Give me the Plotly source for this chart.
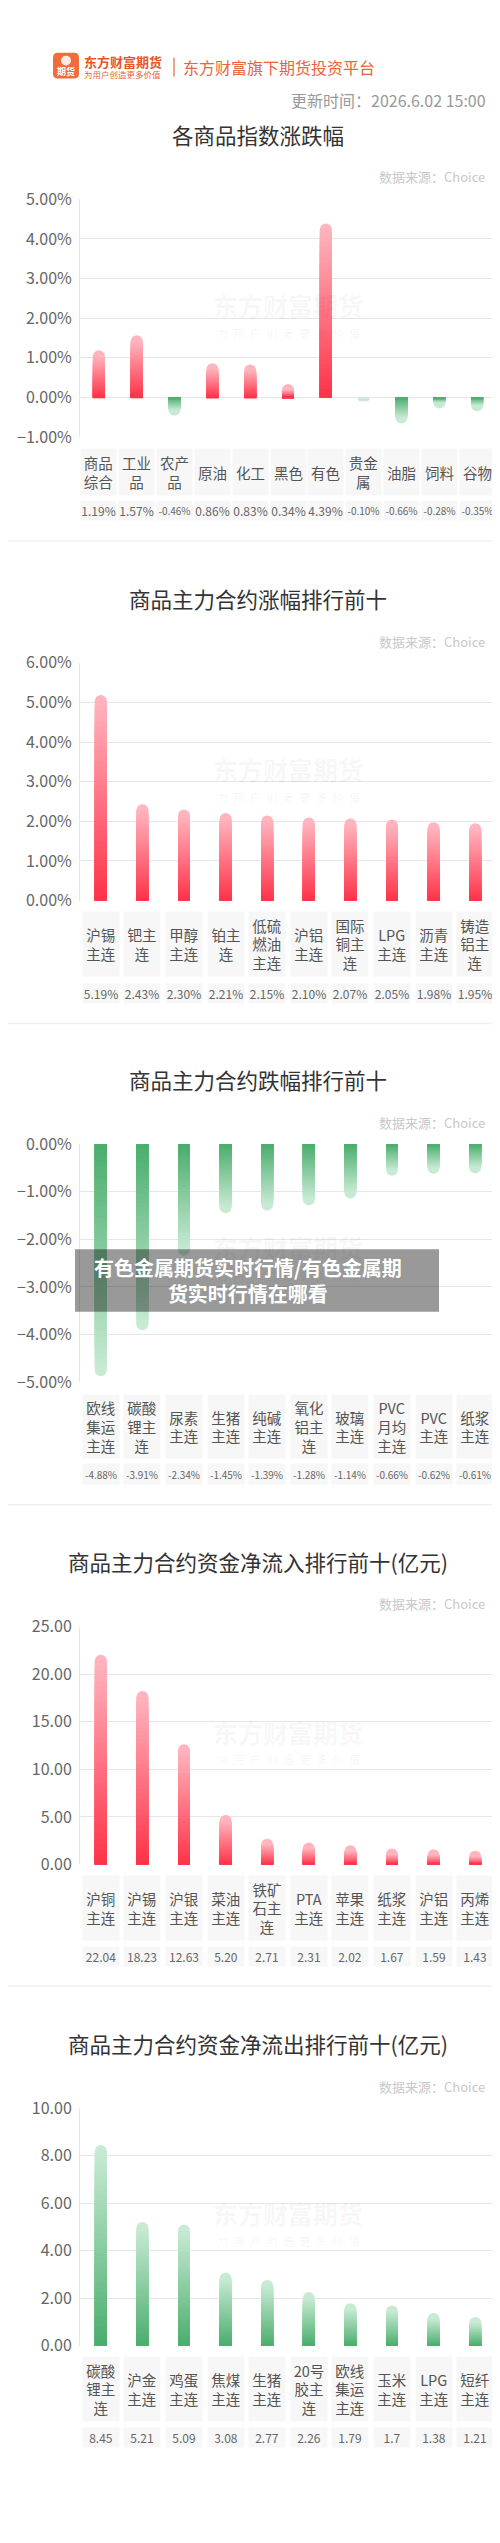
import plotly.graph_objects as go

W, H = 500, 2543
FONT = "Noto Sans CJK SC"

# ---- data ----
idx_names = ["商品<br>综合", "工业<br>品", "农产<br>品", "原油", "化工", "黑色", "有色",
             "贵金<br>属", "油脂", "饲料", "谷物"]
idx_changes = [1.19, 1.57, -0.46, 0.86, 0.83, 0.34, 4.39, -0.10, -0.66, -0.28, -0.35]

up_names = ["沪锡<br>主连", "钯主<br>连", "甲醇<br>主连", "铂主<br>连", "低硫<br>燃油<br>主连",
            "沪铝<br>主连", "国际<br>铜主<br>连", "LPG<br>主连", "沥青<br>主连", "铸造<br>铝主<br>连"]
up_changes = [5.19, 2.43, 2.30, 2.21, 2.15, 2.10, 2.07, 2.05, 1.98, 1.95]

down_names = ["欧线<br>集运<br>主连", "碳酸<br>锂主<br>连", "尿素<br>主连", "生猪<br>主连", "纯碱<br>主连",
              "氧化<br>铝主<br>连", "玻璃<br>主连", "PVC<br>月均<br>主连", "PVC<br>主连", "纸浆<br>主连"]
down_changes = [-4.88, -3.91, -2.34, -1.45, -1.39, -1.28, -1.14, -0.66, -0.62, -0.61]

inflow_names = ["沪铜<br>主连", "沪锡<br>主连", "沪银<br>主连", "菜油<br>主连", "铁矿<br>石主<br>连",
                "PTA<br>主连", "苹果<br>主连", "纸浆<br>主连", "沪铝<br>主连", "丙烯<br>主连"]
inflow_values = [22.04, 18.23, 12.63, 5.20, 2.71, 2.31, 2.02, 1.67, 1.59, 1.43]

outflow_names = ["碳酸<br>锂主<br>连", "沪金<br>主连", "鸡蛋<br>主连", "焦煤<br>主连", "生猪<br>主连",
                 "20号<br>胶主<br>连", "欧线<br>集运<br>主连", "玉米<br>主连", "LPG<br>主连", "短纤<br>主连"]
outflow_values = [8.45, 5.21, 5.09, 3.08, 2.77, 2.26, 1.79, 1.7, 1.38, 1.21]

update_time = "更新时间：2026.6.02 15:00"
source_text = "数据来源：Choice"

RED = ((255, 50, 72), (255, 180, 190))      # base colour, tip colour
GREEN = ((74, 173, 108), (200, 234, 212))
N_SEG = 40
BAR_PX = 12


def px(x):
    return x / W


def py(y):
    return 1 - y / H


def grad(pal, t):
    b, e = pal
    c = [round(b[i] + (e[i] - b[i]) * t) for i in range(3)]
    return f"rgb({c[0]},{c[1]},{c[2]})"


def pct(v):
    return f"{v:.2f}%"


def note(x, y, text, size, color, xanchor="center", xref="paper", **kw):
    d = dict(x=x, y=y, xref=xref, yref="paper", text=text, showarrow=False,
             xanchor=xanchor, yanchor="middle",
             font=dict(size=size, color=color, family=FONT))
    d.update(kw)
    return d


def round_rect(x0, y0, x1, y1, r):
    # pixel box -> paper path with rounded corners
    pts = [
        f"M {px(x0 + r)},{py(y0)}", f"L {px(x1 - r)},{py(y0)}",
        f"Q {px(x1)},{py(y0)} {px(x1)},{py(y0 + r)}", f"L {px(x1)},{py(y1 - r)}",
        f"Q {px(x1)},{py(y1)} {px(x1 - r)},{py(y1)}", f"L {px(x0 + r)},{py(y1)}",
        f"Q {px(x0)},{py(y1)} {px(x0)},{py(y1 - r)}", f"L {px(x0)},{py(y0 + r)}",
        f"Q {px(x0)},{py(y0)} {px(x0 + r)},{py(y0)}", "Z",
    ]
    return " ".join(pts)


charts = [
    dict(title="各商品指数涨跌幅", names=idx_names, vals=idx_changes,
         texts=[pct(v) for v in idx_changes], pal="sign",
         rng=[-1, 5], dtick=1, suffix="%", top=180, bottom=420,
         title_y=115, src_y=157, wm_y=287, lab=(432, 478), valbox=(485, 504), boxw=35),
    dict(title="商品主力合约涨幅排行前十", names=up_names, vals=up_changes,
         texts=[pct(v) for v in up_changes], pal="red",
         rng=[0, 6], dtick=1, suffix="%", top=648, bottom=888,
         title_y=583, src_y=626, wm_y=755, lab=(900, 964), valbox=(972, 991), boxw=36),
    dict(title="商品主力合约跌幅排行前十", names=down_names, vals=down_changes,
         texts=[pct(v) for v in down_changes], pal="green",
         rng=[-5, 0], dtick=1, suffix="%", top=1134, bottom=1374,
         title_y=1069, src_y=1112, wm_y=1238, lab=(1387, 1450), valbox=(1457, 1477), boxw=36),
    dict(title="商品主力合约资金净流入排行前十(亿元)", names=inflow_names, vals=inflow_values,
         texts=[f"{v:.2f}" for v in inflow_values], pal="red",
         rng=[0, 25], dtick=5, suffix="", top=1621, bottom=1861,
         title_y=1555, src_y=1598, wm_y=1727, lab=(1873, 1937), valbox=(1944, 1963), boxw=36),
    dict(title="商品主力合约资金净流出排行前十(亿元)", names=outflow_names, vals=outflow_values,
         texts=[str(v) for v in outflow_values], pal="green",
         rng=[0, 10], dtick=2, suffix="", top=2107, bottom=2347,
         title_y=2042, src_y=2085, wm_y=2213, lab=(2359, 2423), valbox=(2430, 2449), boxw=36),
]

fig = go.Figure()
annotations = []
shapes = []
layout = dict(
    width=W, height=H, margin=dict(l=0, r=0, t=0, b=0),
    paper_bgcolor="white", plot_bgcolor="white",
    barmode="overlay", showlegend=False,
    font=dict(family=FONT, color="#555"),
)

X0, X1 = 72, 488
for ci, c in enumerate(charts):
    k = "" if ci == 0 else str(ci + 1)
    n = len(c["vals"])
    band = (X1 - X0) / n
    unit_px = (c["bottom"] - c["top"]) / (c["rng"][1] - c["rng"][0])
    cap = (BAR_PX / 2) / unit_px          # rounded cap height in data units
    if c["pal"] == "sign":
        pals = [RED if v >= 0 else GREEN for v in c["vals"]]
    else:
        pals = [RED if c["pal"] == "red" else GREEN] * n

    # full-length rounded bar in tip colour
    fig.add_trace(go.Bar(
        x=list(range(n)), y=c["vals"], width=BAR_PX / band,
        marker=dict(color=[grad(p, 1.0) for p in pals], line=dict(width=0),
                    cornerradius=BAR_PX // 2),
        xaxis="x" + k, yaxis="y" + k, hoverinfo="skip",
    ))
    # gradient body: square overlaid bars, shorter ones drawn later (darker towards base)
    for s in range(N_SEG):
        frac = (N_SEG - s) / N_SEG
        t = frac - 0.5 / N_SEG
        ys = []
        for v in c["vals"]:
            body = max(abs(v) - cap, 0)
            ys.append((1 if v >= 0 else -1) * body * frac)
        fig.add_trace(go.Bar(
            x=list(range(n)), y=ys, width=BAR_PX / band,
            marker=dict(color=[grad(p, t) for p in pals], line=dict(width=0)),
            xaxis="x" + k, yaxis="y" + k, hoverinfo="skip",
        ))

    layout["xaxis" + k] = dict(
        domain=[px(X0), px(X1)], range=[-0.5, n - 0.5], anchor="y" + k,
        showgrid=False, zeroline=False, showticklabels=False, fixedrange=True,
    )
    layout["yaxis" + k] = dict(
        domain=[py(c["bottom"]), py(c["top"])], range=c["rng"], anchor="x" + k,
        dtick=c["dtick"], tickformat=".2f", ticksuffix=c["suffix"],
        showgrid=True, gridcolor="#e6e6e6", gridwidth=1, zeroline=False,
        showline=True, linecolor="#e6e6e6", ticks="", ticklabelstandoff=4,
        tickfont=dict(size=16, color="#666", family=FONT), fixedrange=True,
    )

    # title, source, watermark
    annotations.append(note(0.5, py(c["title_y"]), c["title"], 21.5, "#333"))
    annotations.append(note(px(479), py(c["src_y"]), source_text, 13, "#c8c8c8", xanchor="right"))
    annotations.append(note(px(280), py(c["wm_y"]), "<b>东方财富期货</b>", 25, "rgba(0,0,0,0.05)"))
    annotations.append(note(px(280), py(c["wm_y"] + 28), "\u2002".join("为用户创造更多价值"),
                            11, "rgba(0,0,0,0.06)"))

    # category and value boxes
    l0, l1 = c["lab"]
    v0, v1 = c["valbox"]
    for i, (name, txt) in enumerate(zip(c["names"], c["texts"])):
        annotations.append(note(i, py((l0 + l1) / 2), name, 14.5, "#555", xref="x" + k,
                                width=c["boxw"], height=l1 - l0, borderpad=0, bgcolor="#f7f7f7"))
        annotations.append(note(i, py((v0 + v1) / 2), txt, 10 if txt.startswith("-") else 12,
                                "#666", xref="x" + k,
                                width=c["boxw"], height=v1 - v0, borderpad=0, bgcolor="#f7f7f7"))

# section separators
for y in [525, 1012, 1498, 1984]:
    shapes.append(dict(type="line", xref="paper", yref="paper", x0=0, x1=1,
                       y0=py(y), y1=py(y), line=dict(color="#f0f0f0", width=1.5)))

# header
shapes.append(dict(type="path", xref="paper", yref="paper", path=round_rect(45, 32, 71, 58, 5),
                   fillcolor="#F26B3A", line=dict(width=0)))
shapes.append(dict(type="circle", xref="paper", yref="paper", x0=px(53), x1=px(63),
                   y0=py(45), y1=py(35), fillcolor="rgba(255,255,255,0.85)", line=dict(width=0)))
shapes.append(dict(type="line", xref="paper", yref="paper", x0=px(166), x1=px(166),
                   y0=py(56), y1=py(37), line=dict(color="#E8643A", width=1.2)))
annotations += [
    note(px(58), py(51), "<b>期货</b>", 9, "white"),
    note(px(74), py(41), "<b>东方财富期货</b>", 13, "#E8552A", xanchor="left"),
    note(px(74), py(53.5), "为用户创造更多价值", 8.5, "#E8643A", xanchor="left"),
    note(px(173), py(46), "东方财富旗下期货投资平台", 16, "#E8643A", xanchor="left"),
    note(px(480), py(80), update_time, 16, "#999", xanchor="right"),
]

# overlay banner
shapes.append(dict(type="rect", xref="paper", yref="paper", x0=px(67), x1=px(431),
                   y0=py(1303), y1=py(1240), fillcolor="rgba(0,0,0,0.4)",
                   line=dict(width=0), layer="above"))
annotations.append(note(px(240), py(1271),
                        "<b>有色金属期货实时行情/有色金属期<br>货实时行情在哪看</b>",
                        20, "white", align="center"))

layout["annotations"] = annotations
layout["shapes"] = shapes
fig.update_layout(layout)
fig.write_html("out.html")
